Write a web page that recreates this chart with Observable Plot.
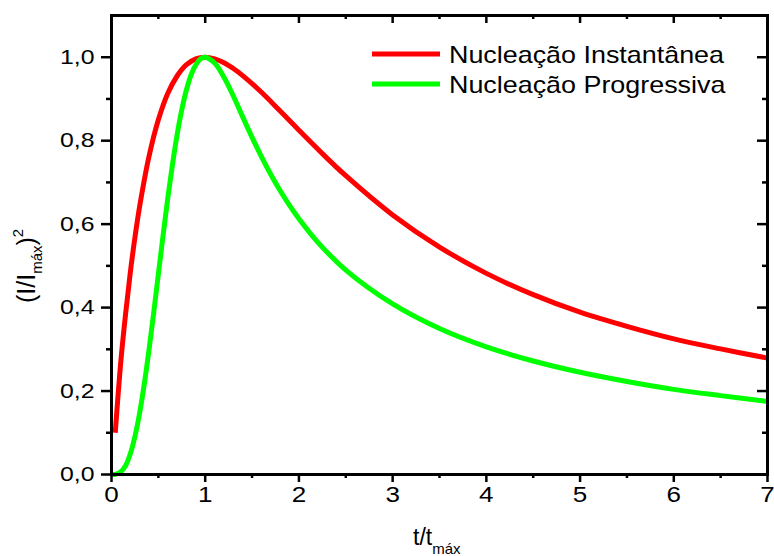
<!DOCTYPE html>
<html>
<head>
<meta charset="utf-8">
<script src="https://cdn.jsdelivr.net/npm/d3@7"></script>
<script src="https://cdn.jsdelivr.net/npm/@observablehq/plot@0.6"></script>
<style>
  body { margin: 0; background: #fff; }
  #chart svg { display: block; }
</style>
</head>
<body>
<div id="chart"></div>
<script>
// Dimensionless chronoamperometric transients (Scharifker–Hills)
const seriesNames = ["Nucleação Instantânea", "Nucleação Progressiva"];
const seriesColors = ["#ff0000", "#00ff00"];

const tInst = [0.04, 0.1, 0.15, 0.2, 0.25, 0.3, 0.4, 0.5, 0.6, 0.7, 0.8, 0.9, 1.0,
  1.1, 1.2, 1.3, 1.4, 1.6, 1.8, 2.0, 2.25, 2.5, 3.0, 3.5, 4.0, 4.5, 5.0, 5.5, 6.0, 6.5, 7.0];
const yInst = [0.10, 0.272, 0.384, 0.483, 0.568, 0.642, 0.762, 0.850, 0.913, 0.955, 0.982, 0.996, 1.0,
  0.996, 0.987, 0.973, 0.956, 0.916, 0.871, 0.825, 0.769, 0.716, 0.622, 0.545, 0.482, 0.431, 0.389, 0.355, 0.325, 0.301, 0.279];

const tProg = [0, 0.05, 0.1, 0.15, 0.2, 0.25, 0.3, 0.35, 0.4, 0.45, 0.5, 0.55, 0.6, 0.65, 0.7, 0.75,
  0.8, 0.85, 0.9, 0.95, 1.0, 1.1, 1.2, 1.3, 1.4, 1.5, 1.6, 1.7, 1.8, 1.9, 2.0, 2.2, 2.5,
  3.0, 3.5, 4.0, 4.5, 5.0, 5.5, 6.0, 6.5, 7.0];
const yProg = [0, 0.001, 0.007, 0.021, 0.049, 0.091, 0.147, 0.217, 0.298, 0.387, 0.480, 0.572, 0.661, 0.742, 0.814, 0.874,
  0.922, 0.958, 0.982, 0.996, 1.0, 0.986, 0.952, 0.907, 0.857, 0.808, 0.762, 0.719, 0.680, 0.645, 0.613, 0.557, 0.490,
  0.409, 0.350, 0.306, 0.272, 0.245, 0.223, 0.204, 0.189, 0.175];

const xMajor = [0, 1, 2, 3, 4, 5, 6, 7];
const xMinor = [0.5, 1.5, 2.5, 3.5, 4.5, 5.5, 6.5];
const yMajor = [0, 0.2, 0.4, 0.6, 0.8, 1.0];
const yMinor = [0.1, 0.3, 0.5, 0.7, 0.9];

const inst = tInst.map((t, i) => ({t, v: yInst[i]}));
const prog = tProg.map((t, i) => ({t, v: yProg[i]}));

const W = 774, H = 556;
const mL = 111, mR = 7, mT = 15, mB = 82;
const innerW = W - mL - mR, innerH = H - mT - mB;
const font = "'Liberation Sans', Arial, sans-serif";
const tick = {stroke: "#000", strokeWidth: 2.5};
const fmtY = d => d.toFixed(1).replace(".", ",");

const chart = Plot.plot({
  width: W,
  height: H,
  marginLeft: mL,
  marginRight: mR,
  marginTop: mT,
  marginBottom: mB,
  style: {fontFamily: font, color: "#000", background: "#fff"},
  x: {domain: [0, 7], axis: null},
  y: {domain: [0, 1.1], axis: null},
  marks: [
    Plot.line(inst, {x: "t", y: "v", stroke: seriesColors[0], strokeWidth: 5, curve: "catmull-rom", strokeLinecap: "butt"}),
    Plot.line(prog, {x: "t", y: "v", stroke: seriesColors[1], strokeWidth: 5, curve: "catmull-rom", strokeLinecap: "butt"}),
    Plot.frame({stroke: "#000", strokeWidth: 3}),
    // tick labels
    Plot.text(xMajor, {x: d => d, text: d => String(d), frameAnchor: "bottom", lineAnchor: "top",
      dy: 12, fontSize: 22, fill: "#000", className: "ticklabel"}),
    Plot.text(yMajor, {y: d => d, text: fmtY, frameAnchor: "left", textAnchor: "end",
      dx: -17, fontSize: 21, fill: "#000", className: "ticklabel"}),
    // bottom and left ticks (outward)
    Plot.tickX(xMajor, {x: d => d, insetTop: innerH, insetBottom: -8, ...tick}),
    Plot.tickX(xMinor, {x: d => d, insetTop: innerH, insetBottom: -4, ...tick}),
    Plot.tickY(yMajor, {y: d => d, insetRight: innerW, insetLeft: -10, ...tick}),
    Plot.tickY(yMinor, {y: d => d, insetRight: innerW, insetLeft: -5, ...tick}),
    // top and right mirror ticks (inward)
    Plot.tickX(xMajor, {x: d => d, insetBottom: innerH - 8, ...tick}),
    Plot.tickX(xMinor, {x: d => d, insetBottom: innerH - 4, ...tick}),
    Plot.tickY(yMajor, {y: d => d, insetLeft: innerW - 10, ...tick}),
    Plot.tickY(yMinor, {y: d => d, insetLeft: innerW - 5, ...tick})
  ]
});

document.getElementById("chart").appendChild(chart);

const svg = d3.select(chart);

// slightly wide lettering for the tick labels
svg.selectAll("text").each(function () {
  const len = this.getComputedTextLength();
  if (len > 0) {
    this.setAttribute("textLength", (len * 1.18).toFixed(1));
    this.setAttribute("lengthAdjust", "spacingAndGlyphs");
  }
});

// legend
const legend = svg.append("g").attr("font-family", font).attr("text-anchor", "start");
seriesNames.forEach((name, i) => {
  const y = 54 + i * 30;
  legend.append("line")
    .attr("x1", 372).attr("x2", 440).attr("y1", y).attr("y2", y)
    .attr("stroke", seriesColors[i]).attr("stroke-width", 5);
  const tx = legend.append("text")
    .attr("x", 449).attr("y", y + 9)
    .attr("font-size", 24).attr("fill", "#000")
    .text(name);
  const len = tx.node().getComputedTextLength();
  tx.attr("textLength", (len * 1.12).toFixed(1)).attr("lengthAdjust", "spacingAndGlyphs");
});

// x-axis title: t/t_máx
const xt = svg.append("text")
  .attr("x", 413).attr("y", 545).attr("text-anchor", "start")
  .attr("font-family", font).attr("font-size", 23).attr("fill", "#000");
xt.append("tspan").text("t/t");
xt.append("tspan").attr("font-size", 15).attr("dy", 9).text("máx");

// y-axis title: (I/I_máx)^2
const yt = svg.append("text")
  .attr("transform", "translate(35,303) rotate(-90)").attr("text-anchor", "start")
  .attr("font-family", font).attr("font-size", 25).attr("fill", "#000");
yt.append("tspan").text("(I/I");
yt.append("tspan").attr("font-size", 15).attr("dy", 7).text("máx");
yt.append("tspan").attr("dy", -7).text(")");
yt.append("tspan").attr("font-size", 15).attr("dy", -12).text("2");
</script>
</body>
</html>
